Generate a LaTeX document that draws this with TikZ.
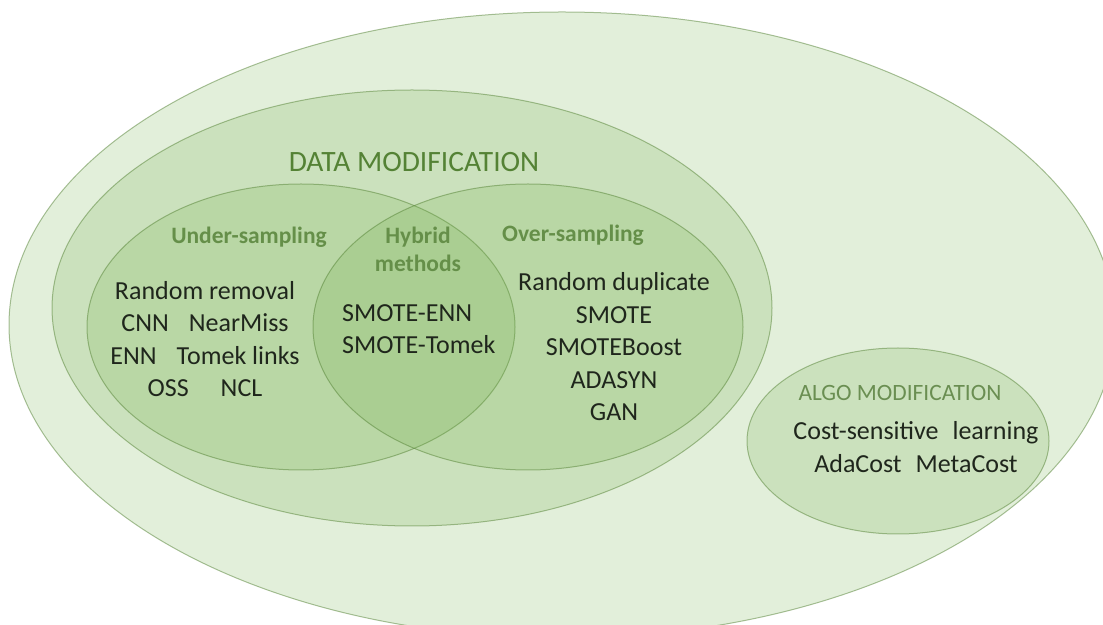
\documentclass[tikz,border=0pt]{standalone}
\usepackage{fontspec}
\setmainfont{Carlito}
\definecolor{venngreen}{HTML}{70AD47}
\definecolor{titlegreen}{HTML}{548235}
\definecolor{algogreen}{HTML}{6A8E52}
\definecolor{itemtext}{HTML}{1F261C}
\tikzset{
  setfill/.style={fill=venngreen, fill opacity=0.2, draw=venngreen!75!black, draw opacity=0.5, line width=1pt},
  bigtitle/.style={text=titlegreen, font=\fontsize{29.5}{34}\selectfont},
  subtitle/.style={text=titlegreen!90, font=\bfseries\fontsize{23.5}{28}\selectfont, align=center},
  itemlist/.style={text=itemtext, font=\fontsize{26}{32.5}\selectfont, align=center},
}
\begin{document}
\begin{tikzpicture}[x=1pt, y=1pt]
    \useasboundingbox (0,0) rectangle (1103,624);

    % Conjuntos
    \draw[setfill] (562,299) ellipse [x radius=553, y radius=313];
    \draw[setfill] (412,316) ellipse [x radius=360, y radius=218];
    \draw[setfill] (301,297) ellipse [x radius=214, y radius=143];
    \draw[setfill] (528,297) ellipse [x radius=215, y radius=143];
    \draw[setfill] (898,183) ellipse [x radius=151, y radius=93];

    % Modificacao dos dados
    \node[bigtitle] (datamod) at (414,462) {DATA MODIFICATION};
    \node[subtitle] (under) at (249,387) {Under-sampling};
    \node[subtitle] (hybrid) at (418,375) {Hybrid\\methods};
    \node[subtitle] (over) at (573,389) {Over-sampling};

    \node[itemlist] (underlist) at (205,285) {Random removal\\
        CNN\hspace{20pt}NearMiss\\
        ENN\hspace{20pt}Tomek links\\
        OSS\hspace{32pt}NCL};
    \node[itemlist, align=left, anchor=west, inner sep=0pt] (hybridlist) at (342,295)
        {SMOTE-ENN\\SMOTE-Tomek};
    \node[itemlist] (overlist) at (614,277) {Random duplicate\\SMOTE\\SMOTEBoost\\ADASYN\\GAN};

    % Modificacao do algoritmo
    \node[text=algogreen, font=\fontsize{23.4}{28}\selectfont] (algomod) at (900,231) {ALGO MODIFICATION};
    \node[itemlist] (algolist) at (916,177) {Cost-sensitive\hspace{14pt}learning\\
        AdaCost\hspace{14pt}MetaCost};
\end{tikzpicture}
\end{document}
